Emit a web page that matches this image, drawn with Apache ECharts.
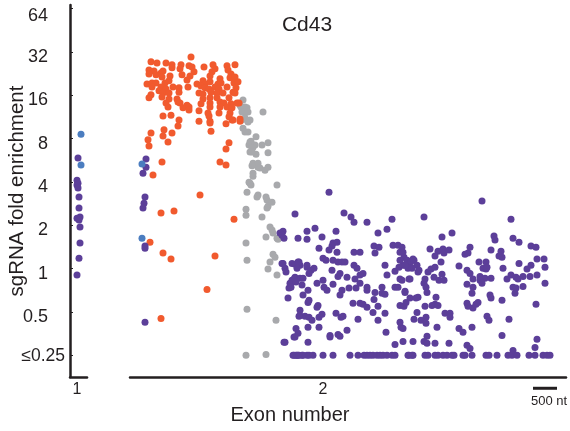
<!DOCTYPE html>
<html><head><meta charset="utf-8">
<script src="https://cdn.jsdelivr.net/npm/echarts@6/dist/echarts.min.js"></script>
<style>html,body{margin:0;padding:0;background:#fff}#c{width:570px;height:431px}</style>
</head><body><div id="c"></div>
<script>
// y values are log2(sgRNA fold enrichment); values ≤0.25 are plotted at -2
const yTickValues = [-2,-1,0,1,2,3,4,5,6];
const yTickLabels = ['≤0.25','0.5','1','2','4','8','16','32','64'];
const exonNames = ['1','2'];
const exonLabelPos = [7,193];          // x position of exon label on each exon axis
const exonLength = [17,436];           // exon axis extents (relative position units)
const scaleBarX = [403,427];           // 500 nt in exon-2 position units
const scaleBarLabel = '500 nt';

const ex1Purple = [[8,2.55],[7,2.04],[8,1.97],[7,1.93],[8,1.86],[9,1.65],[9,1.40],[10,1.19],[7,1.16],[9,1.12],[10,0.96],[10,0.59],[9,0.24],[7,-0.15]];
const ex1Blue = [[11,3.10],[11,2.39]];

const ex2Blue = [[12,0.70],[12,2.41]];

const ex2Orange = [
[61,4.88],[21,4.77],[27,4.74],[36,4.74],[42,4.70],[51,4.70],[59,4.68],[62,4.65],[74,4.65],[83,4.70],[97,4.68],[105,4.70],
[19,4.58],[24,4.56],[31,4.51],[33,4.56],[42,4.63],[50,4.61],[64,4.54],[82,4.54],[85,4.61],[98,4.58],[101,4.49],
[19,4.49],[26,4.47],[32,4.42],[40,4.44],[52,4.47],[60,4.44],[80,4.44],[90,4.38],[100,4.40],[105,4.42],
[17,4.26],[22,4.28],[26,4.28],[35,4.28],[39,4.33],[57,4.35],[67,4.26],[73,4.33],[75,4.26],[80,4.31],[88,4.26],[91,4.28],[104,4.28],
[22,4.19],[31,4.19],[36,4.14],[43,4.19],[49,4.17],[58,4.19],[71,4.21],[75,4.17],[79,4.14],[85,4.19],[89,4.14],[97,4.19],[106,4.17],
[21,4.01],[29,4.10],[33,4.05],[39,4.05],[49,4.07],[69,4.05],[73,4.03],[81,4.07],[87,4.05],[93,4.05],[103,4.07],[105,4.05],
[19,3.94],[32,3.96],[39,3.91],[47,3.91],[73,3.91],[80,3.94],[87,3.94],[99,3.94],
[36,3.82],[48,3.84],[50,3.82],[57,3.77],[71,3.80],[80,3.82],[90,3.84],[94,3.82],[109,3.82],[101,3.80],
[38,3.73],[53,3.71],[59,3.73],[80,3.73],[90,3.73],[97,3.73],[102,3.71],
[59,3.66],[69,3.64],[78,3.59],[89,3.59],[100,3.59],
[33,3.52],[41,3.54],[79,3.52],[99,3.50],
[49,3.43],[69,3.40],[80,3.40],[102,3.43],[110,3.40],
[48,3.29],[80,3.36],[96,3.34],
[21,3.13],[34,3.20],[42,3.13],[81,3.17],
[18,2.97],[33,3.06],[38,2.92],[19,2.83],[99,2.90],[96,2.76],
[32,2.46],[90,2.46],[96,2.39],[23,2.16],[70,1.70],
[31,1.28],[44,1.33],[104,1.14],[20,0.61],[33,0.36],[41,0.22],[85,0.29],[77,-0.48],[31,-1.15],
[108,4.31],[107,3.82],[103,3.43],[110,3.45]
];

const ex2Grey = [
[113,3.89],[111,3.73],[117,3.71],[115,3.59],[112,3.43],[118,3.38],[113,3.24],[118,3.15],[121,2.94],[119,2.85],[123,2.80],[120,2.69],
[126,2.64],[123,2.43],[128,2.34],[123,2.20],[119,1.99],[121,1.93],[110,3.77],[115,3.73],[112,3.61],[118,3.61],[133,3.61],[115,3.47],
[120,3.43],[115,3.15],[126,3.04],[120,2.92],[125,2.85],[122,2.78],[132,2.85],[138,2.90],[122,2.69],[138,2.67],[128,2.43],[122,2.37],
[130,2.32],[138,2.34],[135,2.27],[123,2.13],[120,1.97],[147,1.93],[117,1.76],[128,1.70],[127,1.65],[136,1.65],[137,1.58],[138,1.44],
[137,1.40],[116,1.37],[116,1.23],[132,1.19],[140,0.96],[142,0.89],[147,0.70],[136,0.73],[116,0.59],[143,0.33],[145,0.26],[140,0.15],
[117,0.19],[138,-0.01],[147,-0.15],[117,-0.94],[146,-1.19],[116,-2.0],[136,-1.98],[142,1.53],[143,0.82],[148,0.68]
];

const ex2Purple = [
[16,2.53],[16,2.34],[13,2.20],[15,1.65],[14,1.51],[13,1.40],[15,0.52],[15,0.47],[15,-1.24],
[165,1.26],[153,0.86],[150,0.82],[154,0.70],[168,0.70],[177,0.86],[177,0.68],[153,0.12],[155,0.01],[162,0.12],[168,0.15],[170,0.08],[177,0.08],
[162,-0.27],[165,-0.20],[170,-0.22],[160,-0.34],[159,-0.45],[172,-0.38],[178,-0.50],[158,-0.68],[178,-0.78],[170,-0.96],[170,-1.08],[175,-1.10],
[179,-1.12],[166,-1.38],[164,-1.58],[154,-1.70],[178,-1.35],
[199,1.76],[214,1.28],[221,1.19],[224,1.07],[237,1.07],[262,1.14],[257,0.91],[248,0.82],[152,0.77],[185,0.93],[206,0.86],[192,0.73],
[203,0.59],[207,0.61],[202,0.52],[189,0.47],[199,0.43],[207,0.38],[224,0.38],[230,0.38],[244,0.52],[249,0.49],[245,0.36],[263,0.54],[268,0.54],[270,0.38],[274,0.26],
[152,0.12],[156,-0.08],[165,0.10],[169,0.15],[167,0.01],[177,0.03],[181,-0.04],[184,0.01],[179,-0.11],[193,0.24],[196,0.19],[203,0.19],[208,0.15],
[212,0.15],[215,0.15],[224,0.08],[227,0.01],[202,-0.04],[210,-0.11],[208,-0.18],[217,-0.20],[233,-0.11],[230,-0.15],[225,-0.24],[255,0.08],
[265,-0.06],[269,0.03],[273,0.08],[277,0.12],[281,0.03],[284,0.19],[278,0.01],[287,0.08],
[164,-0.24],[162,-0.31],[166,-0.31],[161,-0.43],[173,-0.22],[187,-0.34],[193,-0.27],[194,-0.43],[197,-0.50],[203,-0.36],[212,-0.50],[210,-0.61],
[219,-0.45],[226,-0.45],[230,-0.34],[237,-0.43],[237,-0.50],[245,-0.55],[252,-0.43],[252,-0.57],[255,-0.59],[257,-0.15],[265,-0.43],[268,-0.43],
[270,-0.24],[279,-0.24],[275,-0.55],[288,-0.66],[173,-0.61],[179,-0.73],[188,-0.85],[187,-0.89],[223,-0.80],[230,-0.80],[233,-0.82],[237,-0.89],
[244,-0.71],[248,-0.87],[270,-0.85],[274,-0.87],[276,-0.78],[280,-0.68],[286,-0.68],
[169,-1.10],[182,-1.19],[189,-1.12],[192,-1.05],[206,-1.03],[211,-1.12],[213,-1.10],[243,-1.01],[255,-1.03],[248,-1.19],[228,-1.17],[287,-1.01],[284,-1.17],
[189,-1.35],[217,-1.42],[168,-1.49],[165,-1.58],[200,-1.54],[200,-1.58],[208,-1.52],[210,-1.56],[256,-1.47],[271,-1.35],[273,-1.38],[270,-1.24],
[155,-1.70],[178,-1.70],[265,-1.75],[273,-1.68],[283,-1.68],
[352,1.56],[294,1.19],[381,1.14],[312,0.73],[322,0.82],[364,0.75],[365,0.66],[383,0.70],[389,0.61],[401,0.52],[406,0.49],
[272,0.49],[273,0.38],[300,0.45],[308,0.40],[313,0.45],[314,0.36],[319,0.43],[305,0.29],[335,0.33],[338,0.36],[340,0.49],[361,0.43],[371,0.40],
[369,0.29],[372,0.26],[414,0.22],[407,0.22],[349,0.15],[356,0.15],[389,0.12],[401,0.08],[397,-0.01],[415,0.03],[311,0.15],
[270,0.19],[277,0.19],[281,0.17],[283,0.22],[275,0.08],[282,0.01],[289,-0.04],[288,-0.08],[298,-0.08],[301,-0.01],[305,0.03],[304,-0.20],
[309,-0.27],[314,-0.27],[312,-0.13],[329,0.06],[337,-0.04],[340,-0.11],[343,-0.24],[350,-0.18],[353,0.01],[356,-0.01],[357,0.03],[355,-0.22],
[361,-0.22],[373,0.01],[377,-0.24],[381,-0.15],[386,-0.20],[388,-0.24],[393,-0.18],[400,-0.18],[407,-0.15],[415,-0.34],
[295,-0.24],[294,-0.34],[296,-0.43],[297,-0.55],[280,-0.24],[272,-0.27],[275,-0.52],[337,-0.36],[343,-0.43],[350,-0.27],[352,-0.34],[383,-0.43],
[386,-0.45],[385,-0.57],[393,-0.41],[360,-0.61],[361,-0.68],[372,-0.73],[342,-0.57],[348,-0.78],[346,-0.82],[343,-0.91],[337,-0.80],[338,-0.87],
[306,-0.66],[305,-0.82],[302,-0.85],[308,-0.85],[295,-0.87],[406,-0.82],
[315,-1.03],[320,-1.03],[320,-1.12],[296,-1.12],[291,-1.19],[296,-1.26],[307,-1.35],[329,-1.38],[333,-1.47],[342,-1.35],[357,-1.10],[359,-1.19],[379,-1.17],
[297,-1.56],[372,-1.54],[294,-1.68],[297,-1.72],[305,-1.72],[319,-1.72],[337,-1.77],[340,-1.84],[383,-1.89],[405,-1.82],[407,-1.63],
[163,-2],[166,-2],[168,-2],[172,-2],[177,-2],
[164,-2],[167,-2],[169,-2],[173,-2],[179,-2],[183,-2],[193,-2],[203,-2],[220,-2],[228,-2],[234,-2],[237,-2],[240,-2],[243,-2],[247,-2],[250,-2],
[253,-2],[257,-2],[262,-2],[265,-2],[278,-2],[282,-2],
[279,-2],[283,-2],[295,-2],[298,-2],[305,-2],[308,-2],[313,-2],[317,-2],[322,-2],[324,-2],[333,-2],[335,-2],[342,-2],[356,-2],[359,-2],[367,-2],
[378,-2],[382,-2],[387,-2],[399,-2],[405,-2],[413,-2],[417,-2],[420,-2]
];

const C_PURPLE = '#5C3F99', C_ORANGE = '#F15A2E', C_GREY = '#A8A9AC', C_BLUE = '#4B7DC0', C_AXIS = '#231F20';
const FONT = 'Liberation Sans, Arial, Helvetica, sans-serif';

const chart = echarts.init(document.getElementById('c'));
const yBase = {type:'value', min:-2.5, max:6.08};
function sc(name, data, color, g){
  return {name, type:'scatter', xAxisIndex:g, yAxisIndex:g, data, symbolSize:7,
    itemStyle:{color, opacity:1}, silent:true, animation:false};
}
const lblBase = {fontSize:18, color:C_AXIS, fontFamily:FONT};
chart.setOption({
  animation:false,
  grid:[{left:70, top:5, width:17, height:372, outerBoundsMode:'none', containLabel:false},
        {left:130, top:5, width:436, height:372, outerBoundsMode:'none', containLabel:false}],
  xAxis:[
    {gridIndex:0, type:'value', min:0, max:exonLength[0],
     axisLine:{show:true, onZero:false, lineStyle:{color:C_AXIS, width:2.5}}, axisTick:{show:false}, splitLine:{show:false},
     axisLabel:{customValues:[exonLabelPos[0]], formatter:()=>exonNames[0], fontSize:16, color:C_AXIS, fontFamily:FONT, margin:5}},
    {gridIndex:1, type:'value', min:0, max:exonLength[1],
     axisLine:{show:true, onZero:false, lineStyle:{color:C_AXIS, width:2.5}}, axisTick:{show:false}, splitLine:{show:false},
     axisLabel:{customValues:[exonLabelPos[1]], formatter:()=>exonNames[1], fontSize:16, color:C_AXIS, fontFamily:FONT, margin:5}}
  ],
  yAxis:[
    Object.assign({gridIndex:0, name:'sgRNA fold enrichment', nameLocation:'middle', nameGap:42, nameMoveOverlap:false,
      nameTextStyle:{fontSize:20.5, color:C_AXIS, fontFamily:FONT},
      axisLine:{show:true, onZero:false, lineStyle:{color:C_AXIS, width:2.5}},
      axisTick:{show:true, inside:true, length:3, customValues:yTickValues, lineStyle:{color:C_AXIS, width:1}},
      splitLine:{show:false},
      axisLabel:{customValues:yTickValues, margin:5,
        formatter:v=>{const i=yTickValues.indexOf(Math.round(v)); const t=yTickLabels[i];
          return '{'+(i===0?'e':(i===yTickLabels.length-1?'t':'n'))+'|'+t+'}';},
        rich:{
          n:Object.assign({padding:[10,17,0,0]}, lblBase),
          t:Object.assign({padding:[16,17,0,0]}, lblBase),
          e:Object.assign({padding:[2,0,0,0]}, lblBase, {fontSize:17.5})
        }}}, yBase),
    Object.assign({gridIndex:1, show:false, splitLine:{show:false}}, yBase)
  ],
  graphic:[
    {type:'text', x:307, y:25, style:{text:'Cd43', font:'21px '+FONT, fill:C_AXIS, align:'center', verticalAlign:'middle'}},
    {type:'text', x:290, y:415, style:{text:'Exon number', font:'20px '+FONT, fill:C_AXIS, align:'center', verticalAlign:'middle'}},
    {type:'text', x:549, y:401, style:{text:scaleBarLabel, font:'13px '+FONT, fill:C_AXIS, align:'center', verticalAlign:'middle'}}
  ],
  series:[
    sc('ex1p', ex1Purple, C_PURPLE, 0),
    sc('ex1b', ex1Blue, C_BLUE, 0),
    sc('grey', ex2Grey, C_GREY, 1),
    sc('orange', ex2Orange, C_ORANGE, 1),
    sc('purple', ex2Purple, C_PURPLE, 1),
    sc('blue', ex2Blue, C_BLUE, 1),
    {type:'line', xAxisIndex:1, yAxisIndex:1, clip:false, symbol:'none', silent:true, animation:false,
     data:[[scaleBarX[0],-2.76],[scaleBarX[1],-2.76]], lineStyle:{color:C_AXIS, width:3}}
  ]
});
</script></body></html>
